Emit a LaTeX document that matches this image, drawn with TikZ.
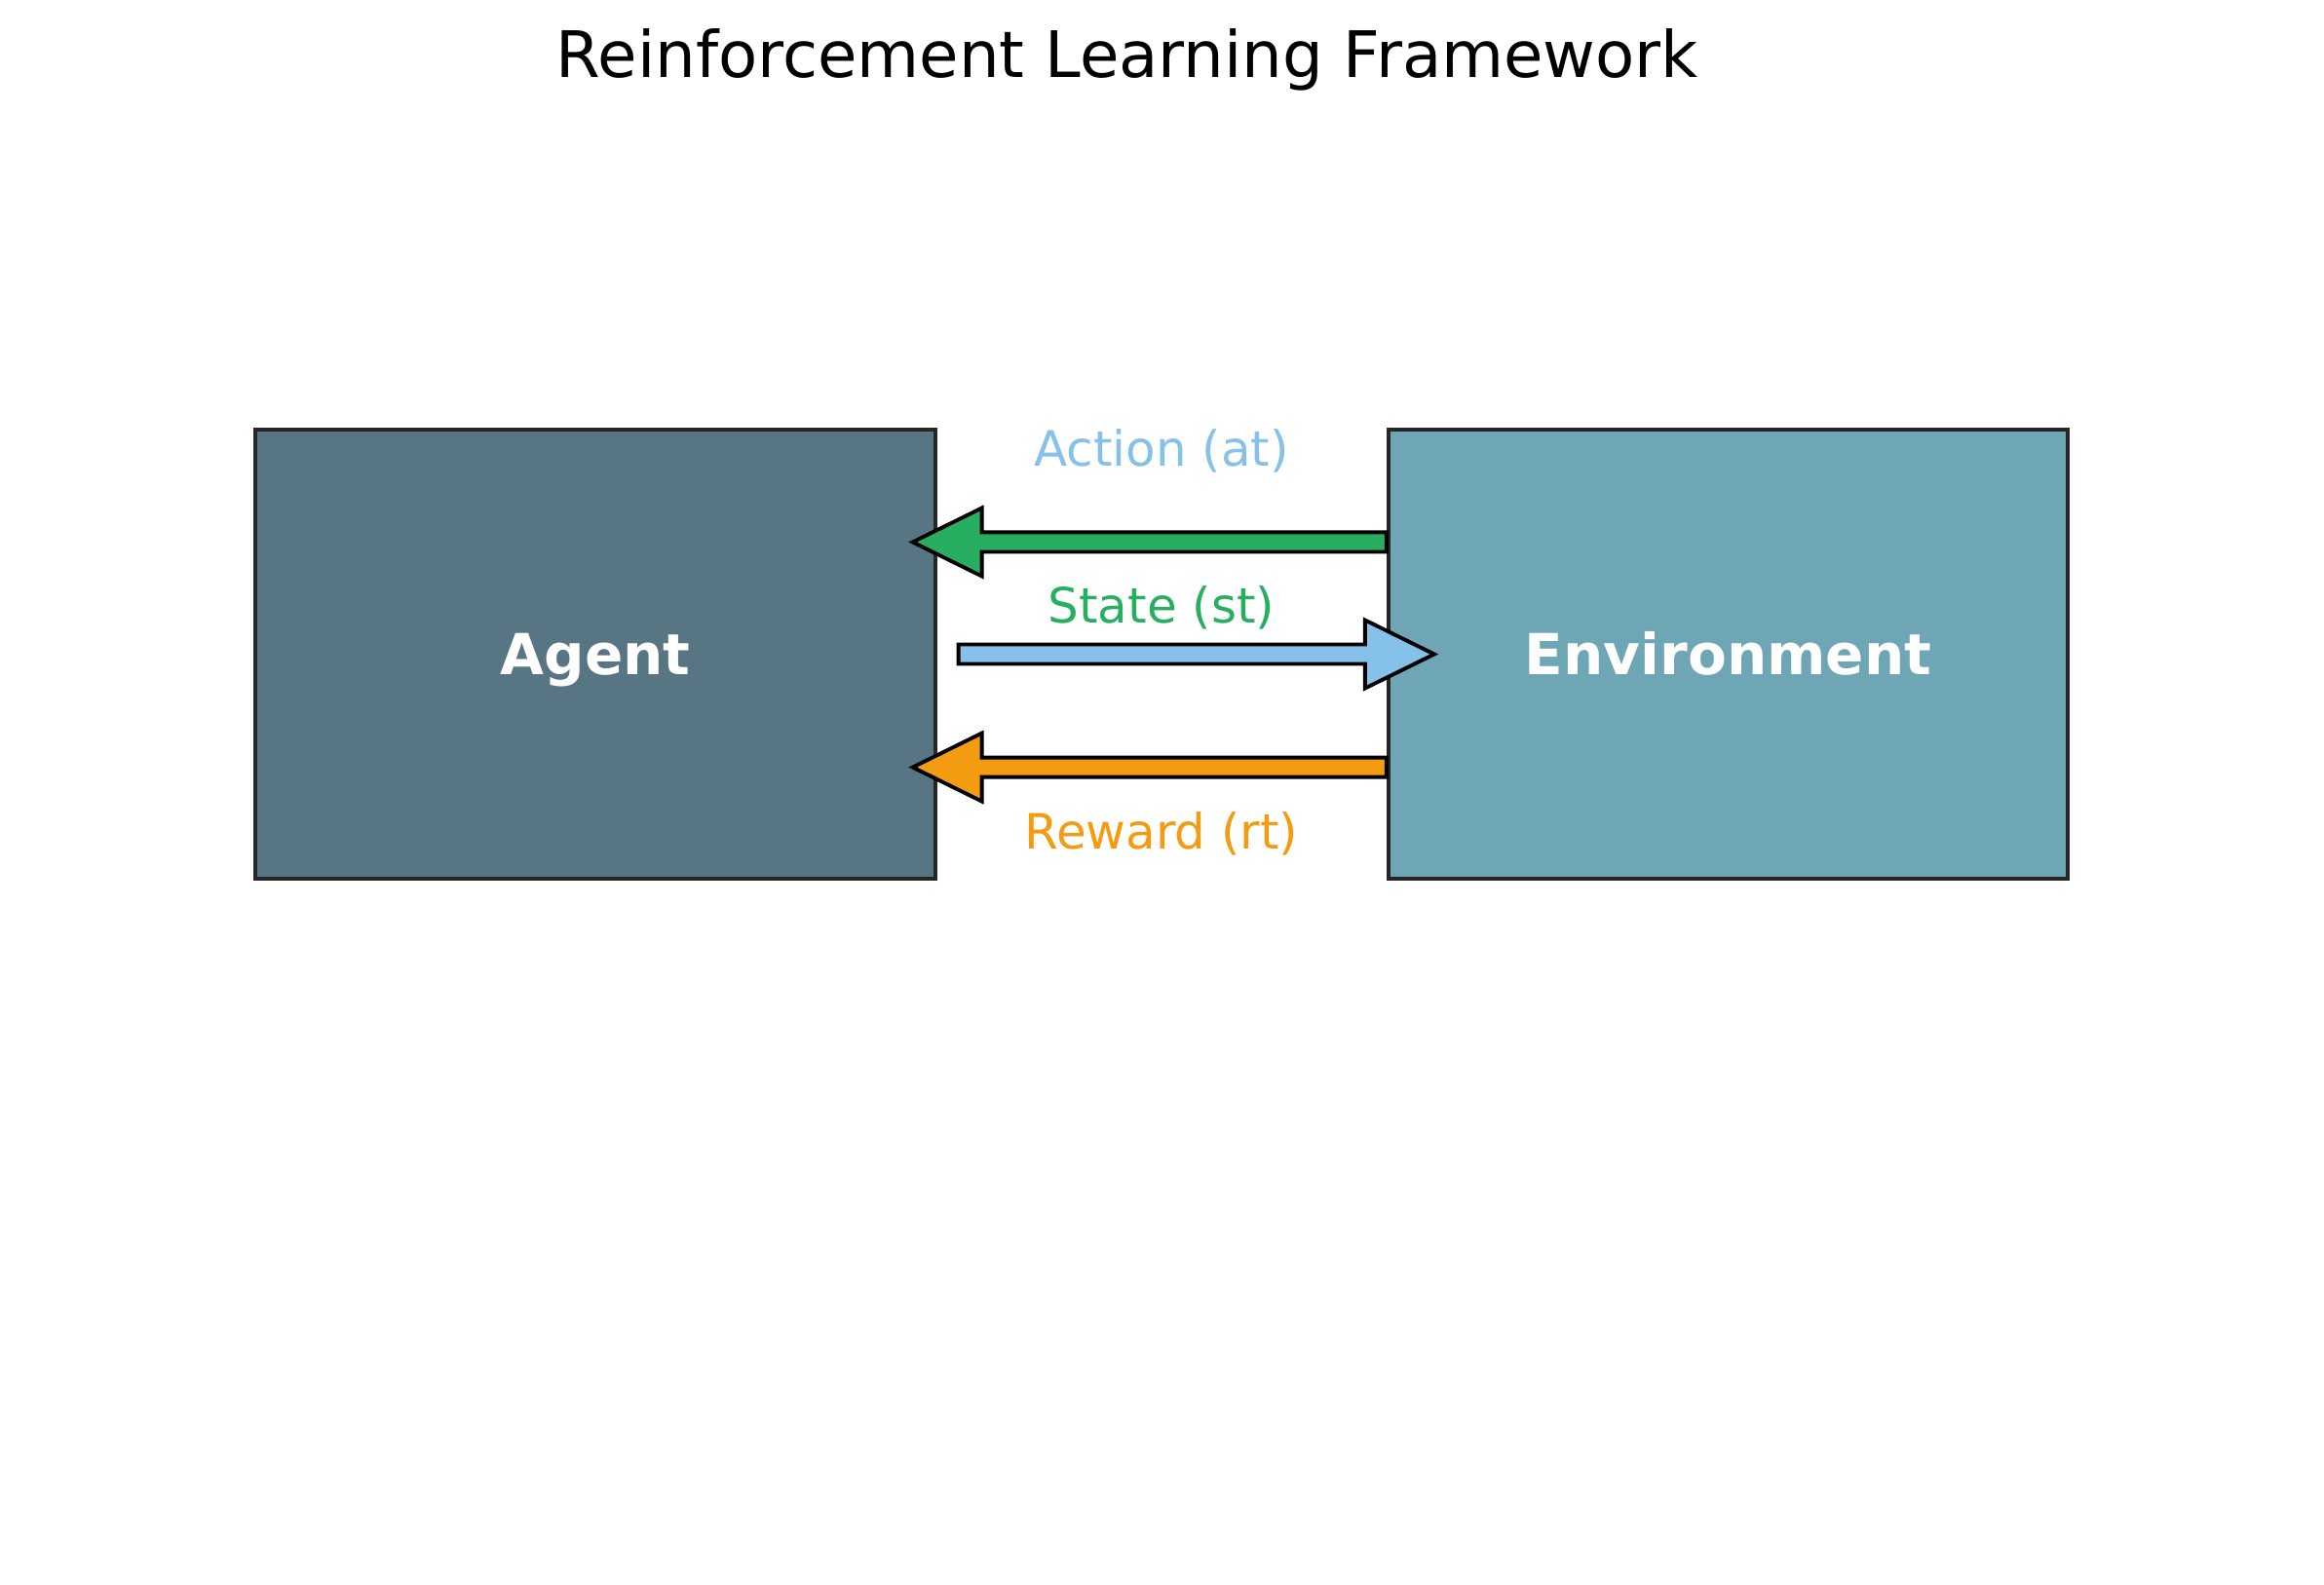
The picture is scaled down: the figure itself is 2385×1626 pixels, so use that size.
\documentclass[tikz,border=0pt]{standalone}
\usepackage{fontspec}
\setmainfont{DejaVu Sans}
\usepackage{tikz}
\usetikzlibrary{calc}

\definecolor{agentcol}{HTML}{587583}
\definecolor{envcol}{HTML}{6EA6B5}
\definecolor{actcol}{HTML}{85C1E9}
\definecolor{statecol}{HTML}{27AE60}
\definecolor{rewcol}{HTML}{F39C12}

\tikzset{
  box/.style={draw=black!85, line width=1.1pt, minimum width=6.97cm, minimum height=4.61cm,
    text=white, text height=12pt, text depth=0pt,
    font=\fontsize{16.5}{20}\selectfont\bfseries},
  lbl/.style={font=\fontsize{14.2}{17}\selectfont},
  fat/.style={draw=black, line width=1.1pt, line join=miter}
}

% fat arrow from #1 to #2, filled with #3
\newcommand{\fatarrow}[3]{%
  \path[fat, fill=#3] let \p1=(#1), \p2=(#2), \n1={sign(\x2-\x1)} in
    (\x1,\y1+2.85pt) -- (\x2-\n1*20.2pt,\y1+2.85pt) -- (\x2-\n1*20.2pt,\y1+9.96pt)
    -- (\x2,\y2) -- (\x2-\n1*20.2pt,\y1-9.96pt) -- (\x2-\n1*20.2pt,\y1-2.85pt)
    -- (\x1,\y1-2.85pt) -- cycle;}

\begin{document}
\begin{tikzpicture}[x=0.01cm, y=-0.01cm]
\useasboundingbox (0,0) rectangle (2385,1626);

\node[font=\fontsize{18.7}{22}\selectfont] (title) at (1157,61) {Reinforcement Learning Framework};

\node[box, fill=agentcol] (agent) at (611,671.5) {Agent};
\node[box, fill=envcol] (env) at (1773.5,671.5) {Environment};

\coordinate (actfrom) at ([yshift=1.15cm]env.west);
\coordinate (actto) at ([yshift=1.15cm, xshift=-0.25cm]agent.east);
\coordinate (statefrom) at ([xshift=0.22cm]agent.east);
\coordinate (stateto) at ([xshift=0.49cm]env.west);
\coordinate (rewfrom) at ([yshift=-1.16cm]env.west);
\coordinate (rewto) at ([yshift=-1.16cm, xshift=-0.25cm]agent.east);

\fatarrow{actfrom}{actto}{statecol}
\fatarrow{statefrom}{stateto}{actcol}
\fatarrow{rewfrom}{rewto}{rewcol}

\node[lbl, text=actcol] (actlbl) at (1192,463) {Action (at)};
\node[lbl, text=statecol] (statelbl) at (1192,624) {State (st)};
\node[lbl, text=rewcol] (rewlbl) at (1192,856) {Reward (rt)};

\end{tikzpicture}
\end{document}
